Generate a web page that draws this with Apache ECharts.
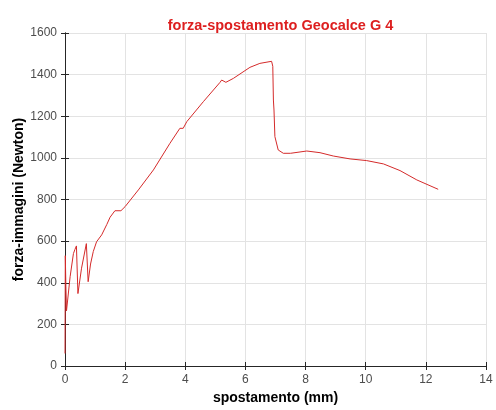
<!DOCTYPE html>
<html><head><meta charset="utf-8">
<script src="https://cdn.jsdelivr.net/npm/echarts@6/dist/echarts.min.js"></script>
<style>html,body{margin:0;padding:0;background:#fff}#c{width:496px;height:410px}</style>
</head><body><div id="c"></div>
<script>
const spostamento = [0, 0.01, 0.03, 0.05, 0.17, 0.28, 0.33, 0.38, 0.43, 0.55, 0.71, 0.77, 0.85, 0.94, 1.05, 1.22, 1.39, 1.50, 1.66, 1.86, 2.0, 2.44, 2.94, 3.49, 3.82, 3.93, 4.05, 4.6, 5.15, 5.21, 5.35, 5.6, 6.15, 6.48, 6.87, 6.91, 6.93, 6.95, 6.98, 7.09, 7.26, 7.5, 8.04, 8.48, 8.92, 9.48, 10.03, 10.59, 11.14, 11.70, 12.41];
const forza = [60, 530, 380, 265, 429, 540, 560, 577, 348, 470, 588, 405, 490, 550, 597, 630, 680, 715, 746, 746, 766, 846, 942, 1070, 1142, 1142, 1174, 1270, 1362, 1374, 1363, 1382, 1435, 1454, 1464, 1440, 1278, 1230, 1102, 1038, 1022, 1022, 1033, 1025, 1009, 995, 987, 971, 939, 894, 849];
const xTicks = [0, 2, 4, 6, 8, 10, 12, 14];
const yTicks = [0, 200, 400, 600, 800, 1000, 1200, 1400, 1600];

const chart = echarts.init(document.getElementById('c'));
const font = 'Liberation Sans, Arial, sans-serif';
const tickStyle = {inside: true, length: 4, lineStyle: {color: '#262626', width: 1}};
const lineStyle = {show: true, lineStyle: {color: '#262626', width: 1}};
const split = {show: true, lineStyle: {color: '#e3e3e3', width: 1}};
chart.setOption({
  animation: false,
  title: {text: 'forza-spostamento Geocalce G 4', left: 275.5, textAlign: 'center', top: 13,
    textStyle: {color: '#dd1f1f', fontSize: 14.5, fontWeight: 'bold', fontFamily: font}},
  grid: {left: 65, right: 10, top: 33, bottom: 44, show: false, containLabel: false, outerBoundsMode: 'none'},
  xAxis: [{
    type: 'value', min: 0, max: 14, interval: 2, position: 'bottom',
    name: 'spostamento (mm)', nameLocation: 'middle', nameGap: 25, nameMoveOverlap: false,
    nameTextStyle: {color: '#000', fontSize: 14, fontWeight: 'bold', fontFamily: font},
    axisLine: lineStyle, axisTick: tickStyle, splitLine: split,
    axisLabel: {color: '#4d4d4d', fontSize: 12, margin: 8, fontFamily: font,
      formatter: v => xTicks.includes(v) ? String(v) : ''}
  }, {
    type: 'value', min: 0, max: 14, interval: 2, position: 'top',
    axisLine: lineStyle, axisTick: tickStyle, splitLine: {show: false}, axisLabel: {show: false}
  }],
  yAxis: [{
    type: 'value', min: 0, max: 1600, interval: 200, position: 'left',
    name: 'forza-immagini (Newton)', nameLocation: 'middle', nameGap: 39, nameMoveOverlap: false,
    nameTextStyle: {color: '#000', fontSize: 14, fontWeight: 'bold', fontFamily: font},
    axisLine: lineStyle, axisTick: tickStyle, splitLine: split,
    axisLabel: {color: '#4d4d4d', fontSize: 12, margin: 8, fontFamily: font,
      formatter: v => yTicks.includes(v) ? String(v) : ''}
  }, {
    type: 'value', min: 0, max: 1600, interval: 200, position: 'right',
    axisLine: lineStyle, axisTick: tickStyle, splitLine: {show: false}, axisLabel: {show: false}
  }],
  series: [{
    type: 'line', showSymbol: false, symbol: 'none',
    data: spostamento.map((x, i) => [x, forza[i]]),
    lineStyle: {color: '#d42a2a', width: 1}
  }]
});
</script></body></html>
